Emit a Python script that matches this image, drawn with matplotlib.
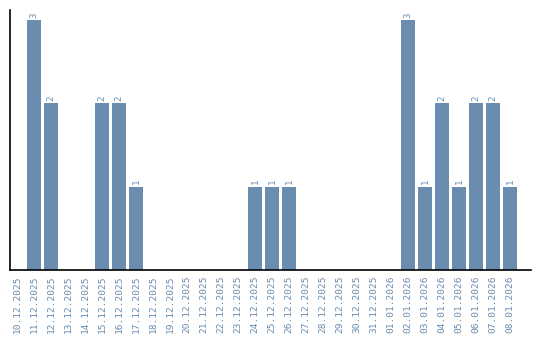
import matplotlib.pyplot as plt

dates = ["10.12.2025", "11.12.2025", "12.12.2025", "13.12.2025", "14.12.2025",
         "15.12.2025", "16.12.2025", "17.12.2025", "18.12.2025", "19.12.2025",
         "20.12.2025", "21.12.2025", "22.12.2025", "23.12.2025", "24.12.2025",
         "25.12.2025", "26.12.2025", "27.12.2025", "28.12.2025", "29.12.2025",
         "30.12.2025", "31.12.2025", "01.01.2026", "02.01.2026", "03.01.2026",
         "04.01.2026", "05.01.2026", "06.01.2026", "07.01.2026", "08.01.2026"]
counts = [0, 3, 2, 0, 0, 2, 2, 1, 0, 0, 0, 0, 0, 0, 1,
          1, 1, 0, 0, 0, 0, 0, 0, 3, 1, 2, 1, 2, 2, 1]

bar_color = "#6a8caf"
mono = "DejaVu Sans Mono"

fig = plt.figure(figsize=(5.4, 3.4), dpi=100)
ax = fig.add_axes([10 / 540, 70 / 340, 521 / 540, 260 / 340])

idx = range(len(dates))
ax.bar(idx, counts, width=0.82, color=bar_color)

# value labels above the bars
for i, v in zip(idx, counts):
    if v > 0:
        ax.text(i, v + 0.03, str(v), rotation=90, ha="center", va="bottom",
                fontsize=6.5, color=bar_color, family=mono)

ax.set_xlim(-0.41, 30.24)
ax.set_ylim(0, 3.12)
ax.set_xticks(list(idx))
ax.set_xticklabels(dates, rotation=90, fontsize=6.8, color=bar_color,
                   family=mono)
ax.tick_params(axis="x", length=0, pad=4)
ax.set_yticks([])

ax.spines["top"].set_visible(False)
ax.spines["right"].set_visible(False)
ax.spines["left"].set_linewidth(1.2)
ax.spines["bottom"].set_linewidth(1.2)

plt.savefig("out.png", dpi=100)
